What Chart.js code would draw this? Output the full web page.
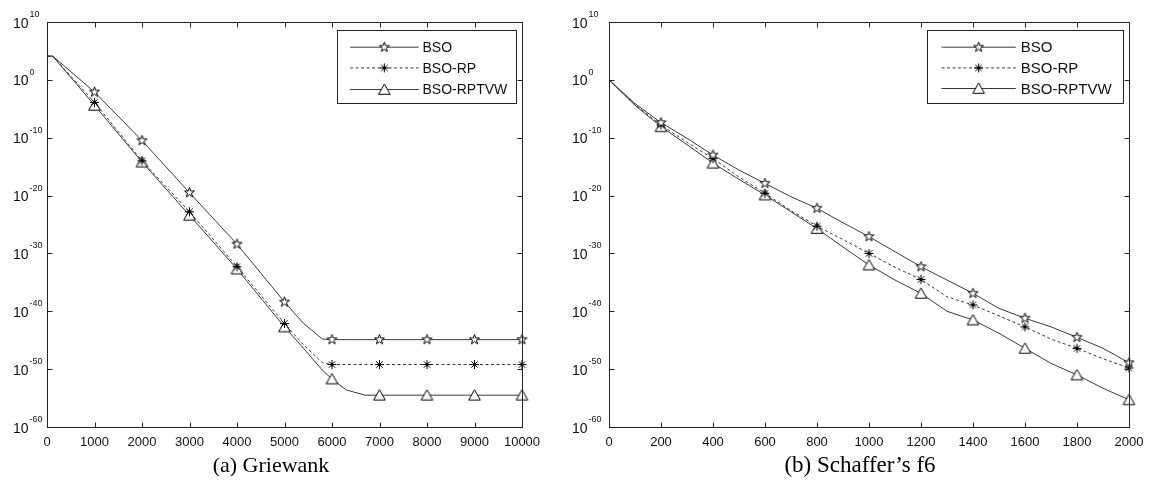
<!DOCTYPE html>
<html>
<head>
<meta charset="utf-8">
<script src="https://cdn.jsdelivr.net/npm/chart.js@4.4.1/dist/chart.umd.min.js"></script>
<style>
html, body { margin: 0; padding: 0; background: #fff; }
#wrap { position: relative; width: 1151px; height: 480px; overflow: hidden; }
#chartA { position: absolute; left: 0; top: 0; }
#chartB { position: absolute; left: 560px; top: 0; }
</style>
</head>
<body>
<div id="wrap">
  <canvas id="chartA" width="560" height="480"></canvas>
  <canvas id="chartB" width="591" height="480"></canvas>
</div>
<script>
// (a) Griewank - iterations and log10 of the fitness
const itersA = [0, 120, 1000, 2000, 3000, 4000, 5000, 5400, 5800, 6000, 6300, 6700, 7000, 8000, 9000, 10000];
const bsoA = [4.1, 4.1, -2.1, -10.5, -19.5, -28.4, -38.4, -42.1, -44.8, -44.9, -44.9, -44.9, -44.9, -44.9, -44.9, -44.9];
const bsoRpA = [4.1, 4.1, -3.9, -14.0, -22.8, -32.3, -42.1, -45.8, -48.9, -49.2, -49.2, -49.2, -49.2, -49.2, -49.2, -49.2];
const bsoRptvwA = [4.1, 4.1, -4.4, -14.2, -23.4, -32.7, -42.7, -46.4, -50.2, -51.7, -53.6, -54.5, -54.5, -54.5, -54.5, -54.5];
const xTicksA = [0, 1000, 2000, 3000, 4000, 5000, 6000, 7000, 8000, 9000, 10000];

// (b) Schaffer's f6
const itersB = [0, 100, 200, 300, 400, 500, 600, 700, 800, 900, 1000, 1100, 1200, 1300, 1400, 1500, 1600, 1700, 1800, 1900, 2000];
const bsoB = [0, -4.1, -7.4, -10.1, -13.0, -15.6, -17.9, -20.2, -22.2, -24.7, -27.1, -29.7, -32.3, -34.6, -36.9, -39.5, -41.2, -42.7, -44.5, -46.4, -48.9];
const bsoRpB = [0, -4.3, -7.8, -10.8, -13.6, -16.8, -19.6, -22.6, -25.3, -27.6, -30.0, -32.4, -34.5, -37.5, -38.9, -40.8, -42.7, -44.8, -46.4, -48.2, -49.8];
const bsoRptvwB = [0, -4.4, -8.1, -11.2, -14.4, -17.2, -19.9, -22.8, -25.7, -28.9, -32.0, -34.6, -36.9, -40.0, -41.5, -43.8, -46.4, -49.0, -51.0, -53.3, -55.3];
const xTicksB = [0, 200, 400, 600, 800, 1000, 1200, 1400, 1600, 1800, 2000];

// shared y axis (powers of ten) and legend names
const yTickExps = [10, 0, -10, -20, -30, -40, -50, -60];
const seriesNames = ["BSO", "BSO-RP", "BSO-RPTVW"];

const SANS = '"Liberation Sans", Arial, sans-serif';
const SERIF = '"Liberation Serif", "Times New Roman", serif';

// Build the matlab-like marker glyphs as small canvases
function makeMarker(kind) {
    const c = document.createElement("canvas");
    c.width = 15;
    c.height = 15;
    const g = c.getContext("2d");
    const cx = 7.5, cy = 7.5;
    g.strokeStyle = "#000";
    g.fillStyle = "#fff";
    g.lineWidth = 1;
    g.beginPath();
    if (kind === "pentagram") {
        for (let i = 0; i < 10; i++) {
            const r = i % 2 ? 2.1 : 5.2;
            const ang = -Math.PI / 2 + i * Math.PI / 5;
            g.lineTo(cx + r * Math.cos(ang), cy + r * Math.sin(ang));
        }
        g.closePath();
        g.fill();
        g.stroke();
    } else if (kind === "asterisk") {
        for (let i = 0; i < 4; i++) {
            const ang = i * Math.PI / 4;
            g.moveTo(cx - 4.5 * Math.cos(ang), cy - 4.5 * Math.sin(ang));
            g.lineTo(cx + 4.5 * Math.cos(ang), cy + 4.5 * Math.sin(ang));
        }
        g.stroke();
    } else {
        g.moveTo(cx, cy - 5.5);
        g.lineTo(cx + 5.8, cy + 4.8);
        g.lineTo(cx - 5.8, cy + 4.8);
        g.closePath();
        g.fill();
        g.stroke();
    }
    return c;
}

const markers = [makeMarker("pentagram"), makeMarker("asterisk"), makeMarker("triangle")];
const dashes = [[], [3, 2.5], []];

// One dataset: line through every sample, marker only every `every` iterations
function lineSet(i, xs, exps, every) {
    return {
        label: seriesNames[i],
        data: xs.map((x, k) => ({ x: x, y: Math.pow(10, exps[k]) })),
        borderColor: "#3a3a3a",
        borderWidth: 1,
        borderDash: dashes[i],
        pointStyle: markers[i],
        pointRadius: (ctx) => {
            const x = xs[ctx.dataIndex];
            return x > 0 && x % every === 0 ? 5 : 0;
        },
        pointHoverRadius: 0,
        tension: 0,
        fill: false,
        clip: false
    };
}

function line(ctx, x1, y1, x2, y2) {
    ctx.beginPath();
    ctx.moveTo(x1, y1);
    ctx.lineTo(x2, y2);
    ctx.stroke();
}

// Draws the boxed axes, inward ticks, 10^n labels, legend and caption
const matlabAxes = {
    id: "matlabAxes",
    afterDraw(chart, args, opts) {
        const ctx = chart.ctx;
        const a = chart.chartArea;
        const xs = chart.scales.x, ys = chart.scales.y;
        const L = Math.round(a.left) + 0.5, R = Math.round(a.right) + 0.5;
        const T = Math.round(a.top) + 0.5, B = Math.round(a.bottom) + 0.5;
        ctx.save();
        ctx.strokeStyle = "#222";
        ctx.lineWidth = 1;
        ctx.strokeRect(L, T, R - L, B - T);

        opts.xTicks.forEach((v) => {
            const px = Math.round(xs.getPixelForValue(v)) + 0.5;
            line(ctx, px, B, px, B - 5);
            line(ctx, px, T, px, T + 5);
        });
        yTickExps.forEach((e) => {
            const py = Math.round(ys.getPixelForValue(Math.pow(10, e))) + 0.5;
            line(ctx, L, py, L + 5, py);
            line(ctx, R, py, R - 5, py);
        });

        // tick labels
        ctx.fillStyle = "#111";
        ctx.textBaseline = "alphabetic";
        ctx.textAlign = "center";
        ctx.font = "13px " + SANS;
        opts.xTicks.forEach((v) => {
            ctx.fillText(String(v), xs.getPixelForValue(v), a.bottom + 18.5);
        });
        ctx.textAlign = "left";
        yTickExps.forEach((e) => {
            const py = ys.getPixelForValue(Math.pow(10, e));
            const lx = a.left - opts.yLabelGap;
            ctx.font = "14px " + SANS;
            ctx.fillText("10", lx, py + 5.6);
            const w = ctx.measureText("10").width;
            ctx.font = "9px " + SANS;
            ctx.fillText(String(e), lx + w + 1, py - 5);
        });

        // legend
        const lg = opts.legend;
        const bx = Math.round(a.right - lg.inset - lg.width) + 0.5;
        const by = Math.round(a.top + lg.top) + 0.5;
        ctx.fillStyle = "#fff";
        ctx.fillRect(bx, by, lg.width, lg.height);
        ctx.strokeStyle = "#222";
        ctx.strokeRect(bx, by, lg.width, lg.height);
        chart.data.datasets.forEach((ds, i) => {
            const ry = by + lg.rows[i];
            ctx.strokeStyle = ds.borderColor;
            ctx.setLineDash(ds.borderDash);
            line(ctx, bx + lg.lineStart, ry, bx + lg.lineEnd, ry);
            ctx.setLineDash([]);
            const img = ds.pointStyle;
            const mid = bx + (lg.lineStart + lg.lineEnd) / 2;
            ctx.drawImage(img, mid - img.width / 2, ry - img.height / 2);
            ctx.fillStyle = "#111";
            ctx.font = lg.fontSize + "px " + SANS;
            ctx.textBaseline = "middle";
            ctx.fillText(ds.label, bx + lg.textX, ry + 1);
        });

        // caption under the panel
        ctx.fillStyle = "#000";
        ctx.textAlign = "center";
        ctx.textBaseline = "alphabetic";
        ctx.font = opts.caption.size + "px " + SERIF;
        ctx.fillText(opts.caption.text, opts.caption.x, 472);
        ctx.restore();
    }
};

function makeChart(id, xs, series, every, xMax, xTicks, padding, extra) {
    return new Chart(document.getElementById(id), {
        type: "line",
        data: {
            datasets: series.map((exps, i) => lineSet(i, xs, exps, every))
        },
        options: {
            responsive: false,
            animation: false,
            events: [],
            layout: { padding: padding },
            scales: {
                x: { type: "linear", min: 0, max: xMax, display: false },
                y: { type: "logarithmic", min: 1e-60, max: 1e10, display: false }
            },
            plugins: {
                legend: { display: false },
                tooltip: { enabled: false },
                matlabAxes: Object.assign({ xTicks: xTicks }, extra)
            }
        },
        plugins: [matlabAxes]
    });
}

makeChart("chartA", itersA, [bsoA, bsoRpA, bsoRptvwA], 1000, 10000, xTicksA,
    { left: 47, top: 22, right: 38, bottom: 53 },
    {
        yLabelGap: 34,
        legend: { inset: 6, top: 7.5, width: 179, height: 73, rows: [16.7, 37.4, 59], lineStart: 12.6, lineEnd: 81, textX: 85, fontSize: 14 },
        caption: { text: "(a) Griewank", x: 271, size: 22 }
    });

makeChart("chartB", itersB, [bsoB, bsoRpB, bsoRptvwB], 200, 2000, xTicksB,
    { left: 49, top: 22, right: 22, bottom: 53 },
    {
        yLabelGap: 37,
        legend: { inset: 6, top: 7.5, width: 196, height: 73, rows: [16.7, 37.4, 58], lineStart: 14, lineEnd: 88.3, textX: 93.3, fontSize: 15 },
        caption: { text: "(b) Schaffer\u2019s f6", x: 300, size: 23 }
    });
</script>
</body>
</html>
